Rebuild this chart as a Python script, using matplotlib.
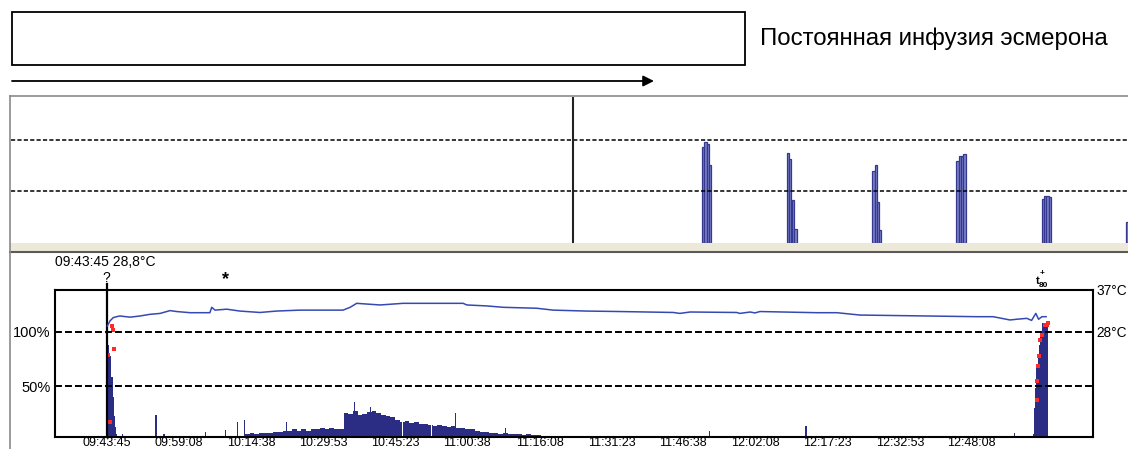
import matplotlib
matplotlib.use("Agg")
import matplotlib.pyplot as plt
import matplotlib.transforms as mtransforms

W, H = 1128, 449
plt.rcParams['font.family'] = ['Liberation Sans', 'DejaVu Sans']
plt.rcParams['lines.scale_dashes'] = False

# ---- data -------------------------------------------------------------
title_text = "Постоянная инфузия эсмерона"
start_clock = "09:43:45"
marker_temp = 28.8

tick_clock = ["09:43:45", "09:59:08", "10:14:38", "10:29:53", "10:45:23",
              "11:00:38", "11:16:08", "11:31:23", "11:46:38", "12:02:08",
              "12:17:23", "12:32:53", "12:48:08"]

# upper panel: single twitch bars (minutes after start, height)
upper_t = [127.1, 127.6, 128.1, 128.6, 145.2, 145.7, 146.3, 146.8,
           163.5, 164.0, 164.4, 164.8, 181.4, 181.9, 182.4, 182.9,
           199.6, 200.1, 200.6, 201.1, 217.5]
upper_h = [93, 98, 96, 76, 87, 81, 42, 14, 70, 76, 40, 13,
           79, 84, 84, 86, 43, 46, 46, 45, 20]
upper_mark_t = 99.4

# lower panel: TOF bars (%)
start_t = [0.1, 0.35, 0.6, 0.85, 1.1, 1.35, 1.6, 1.85, 2.1, 2.5, 3.0, 3.4, 4.0]
start_h = [93, 88, 80, 78, 58, 40, 22, 12, 6, 4, 3, 6, 4]

spike_t = [10.5, 12.2, 21.0, 25.3, 27.9, 29.3, 38.4, 52.9, 56.3, 74.4,
           85.0, 128.6, 149.1, 193.5]
spike_h = [23, 6, 8, 9.5, 17, 18.5, 17, 35, 31, 25, 11, 9, 13.5, 7]

dense_start = 30
dense_h = [6, 7, 6, 7, 7, 7, 8, 8, 9, 9, 10, 9, 10, 9, 10, 10, 11, 10, 11, 10, 10,
           25, 24, 27, 23, 24, 26, 27, 25, 23, 22, 21, 19, 17, 18, 16, 17, 15, 15,
           14, 13, 14, 13, 12, 13, 11, 11, 10, 10, 9, 8,
           8, 7, 7, 6, 7, 6, 6, 6, 5, 6, 5, 5, 4, 4, 0, 0, 4, 4]
gap_t = [57.0, 63.1, 69.3, 74.9]

end_t = [197.6, 197.9, 198.1, 198.4, 198.7, 199.0, 199.2, 199.5, 199.8, 200.0, 200.3, 200.5]
end_h = [6, 30, 48, 68, 78, 88, 95, 108, 108, 108, 108, 108]

red_t = [0.34, 0.7, 1.07, 1.3, 1.6, 198.3, 198.4, 198.6, 198.8, 199.1,
         199.4, 200.1, 200.5, 200.6]
red_v = [79, 17, 105, 102, 84, 37, 55, 68, 78, 92, 97, 106, 106, 108]

# temperature (deg C)
temp_t = [0.13, 0.7, 1.4, 2.1, 2.8, 5.0, 7.1, 9.2, 11.4, 13.5, 14.9, 17.8, 19.9,
          22.0, 22.4, 23.1, 25.6, 28.4, 32.7, 36.2, 41.2, 50.4, 51.9, 53.3, 55.4,
          58.3, 63.2, 76.0, 76.8, 81.0, 84.6, 91.7, 95.2, 102.3, 109.4, 120.8,
          122.2, 124.4, 134.3, 135.0, 137.2, 138.2, 139.3, 151.4, 155.7, 160.6,
          171.3, 185.5, 189.0, 192.6, 194.0, 196.2, 197.2, 198.1, 198.7, 199.4, 200.3]
temp_c = [29.2, 30.3, 31.0, 31.2, 31.35, 31.1, 31.35, 31.7, 31.9, 32.5, 32.3, 32.05,
          32.05, 32.05, 33.2, 32.6, 32.8, 32.4, 32.1, 32.4, 32.6, 32.6, 33.2, 34.05,
          33.9, 33.7, 34.05, 34.05, 33.7, 33.5, 33.2, 33.0, 32.6, 32.4, 32.3, 32.1,
          31.9, 32.2, 32.1, 31.9, 32.2, 32.0, 32.3, 32.05, 32.05, 31.55, 31.4, 31.2,
          31.2, 30.5, 30.65, 30.85, 30.4, 31.9, 30.65, 31.2, 31.2]


def clock_min(s):
    h, m, sec = map(int, s.split(":"))
    h0, m0, s0 = map(int, start_clock.split(":"))
    return ((h * 3600 + m * 60 + sec) - (h0 * 3600 + m0 * 60 + s0)) / 60.0


def px_rect(x0, y0, x1, y1):
    return [x0 / W, 1 - y1 / H, (x1 - x0) / W, (y1 - y0) / H]


NAVY = "#2b2d84"
LINE_BLUE = "#3649b3"

fig = plt.figure(figsize=(W / 100, H / 100), dpi=100)

# background canvas in pixel units
bg = fig.add_axes([0, 0, 1, 1], zorder=0)
bg.set_xlim(0, W)
bg.set_ylim(H, 0)
bg.axis("off")
bg.add_patch(plt.Rectangle((12, 12), 733, 53, fill=False, ec="black", lw=1.3))
bg.text(760, 39, title_text, fontsize=17.3, va="center", ha="left")
bg.annotate("", xy=(654, 81), xytext=(12, 81),
            arrowprops=dict(arrowstyle="-|>", color="black", lw=1.3,
                            mutation_scale=16, shrinkA=0, shrinkB=0))
bg.add_patch(plt.Rectangle((10, 243), W - 10, 8, color="#ece9d8", lw=0))
bg.plot([10, W], [251.5, 251.5], color="#5a5a5a", lw=1.5)
bg.plot([10, 10], [96, H], color="#8a8a8a", lw=1.2)
bg.plot([10, W], [96, 96], color="#8a8a8a", lw=1.2)

# ---- upper panel ----
x_lo_up = (10 - 106.7) / 4.69
x_hi_up = (W - 106.7) / 4.69
up = fig.add_axes(px_rect(10.5, 96.5, W, 243), zorder=2)
up.set_xlim(x_lo_up, x_hi_up)
up.set_ylim(0, 142)
up.bar(upper_t, upper_h, width=0.5, color="#7c82c8", edgecolor="#34398f",
       linewidth=0.9, align="center")
for yv in (50, 100):
    up.axhline(yv, color="black", lw=1.1, ls=(0, (3, 1.6)))
up.axvline(upper_mark_t, color="#222222", lw=1.5)
up.set_xticks([])
up.set_yticks([])
for s in up.spines.values():
    s.set_visible(False)

# ---- lower panel ----
ax = fig.add_axes(px_rect(55, 289.5, 1092.7, 436.7), zorder=3)
ax.set_xlim((55 - 106.7) / 4.69, (1092.7 - 106.7) / 4.69)
ax.set_ylim(3.3, 138.9)

ax.bar(start_t, start_h, width=0.3, color=NAVY, lw=0)
ax.bar(spike_t, spike_h, width=0.25, color=NAVY, lw=0)
dense_t = [dense_start + i for i in range(len(dense_h))]
ax.bar(dense_t, dense_h, width=1.0, color=NAVY, lw=0)
ax.bar(gap_t, [40] * len(gap_t), width=0.2, color="white", lw=0)
ax.bar(end_t, end_h, width=0.3, color=NAVY, lw=0)
ax.scatter(red_t, red_v, s=5, marker="s", color="#ff2a2a", lw=0, zorder=4)

for yv in (50, 100):
    ax.axhline(yv, color="black", lw=1.4, ls=(0, (5, 2.2)), zorder=5)

ax.axvline(0, ymin=0, ymax=1.035, color="black", lw=1.6, clip_on=False, zorder=6)

ticks = [clock_min(s) for s in tick_clock]
ax.set_xticks(ticks)
ax.set_xticklabels(tick_clock, fontsize=9)
ax.tick_params(axis="x", length=0, pad=0.5)
ax.set_yticks([50, 100])
ax.set_yticklabels(["50%", "100%"], fontsize=10.5)
ax.tick_params(axis="y", length=0, pad=3)
for s in ax.spines.values():
    s.set_linewidth(1.5)
    s.set_color("black")

ax2 = ax.twinx()
ax2.set_ylim(5.6, 37)
ax2.plot(temp_t, temp_c, color=LINE_BLUE, lw=1.1)
ax2.set_yticks([28, 37])
ax2.set_yticklabels(["28°C", "37°C"], fontsize=9.8)
ax2.tick_params(axis="y", length=0, pad=3)
for s in ax2.spines.values():
    s.set_visible(False)

tx = mtransforms.blended_transform_factory(ax.transData, ax.transAxes)
ax.text(0, 1.075, "?", transform=tx, ha="center", va="center", fontsize=10)
ax.text(25.4, 1.065, "*", transform=tx, ha="center", va="center", fontsize=13,
        fontweight="bold")
ax.text(198.6, 1.06, "t", transform=tx, ha="center", va="center", fontsize=8,
        fontweight="bold")
ax.text(199.8, 1.03, "80", transform=tx, ha="center", va="center", fontsize=6,
        fontweight="bold")
ax.text(199.4, 1.11, "+", transform=tx, ha="center", va="center", fontsize=6,
        fontweight="bold")
ax.text(0, 1.19, f"{start_clock} {marker_temp:.1f}°C".replace(".", ","),
        transform=ax.transAxes, ha="left", va="center", fontsize=10)

fig.savefig("out.png", dpi=100)
